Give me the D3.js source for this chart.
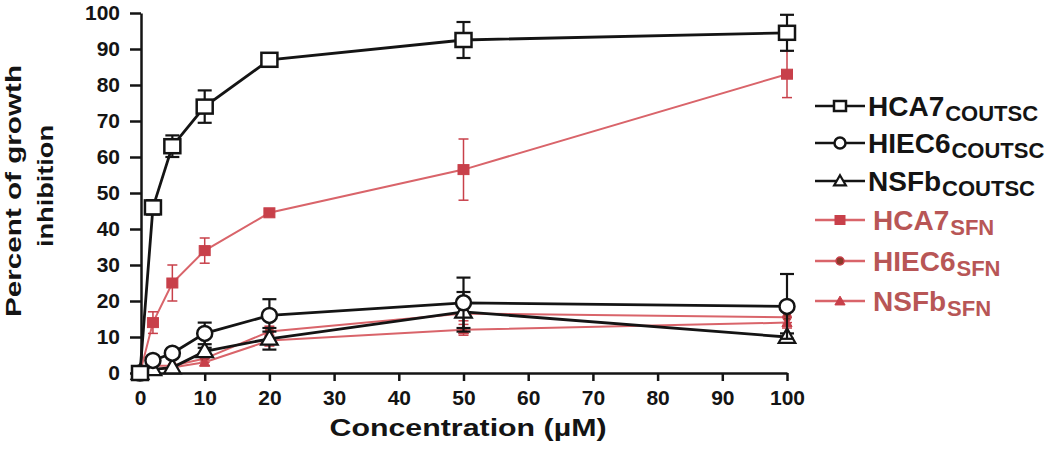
<!DOCTYPE html>
<html>
<head>
<meta charset="utf-8">
<script src="https://cdn.jsdelivr.net/npm/d3@7"></script>
<style>
  html, body { margin: 0; padding: 0; background: #fff; }
  svg { display: block; font-family: "Liberation Sans", Arial, sans-serif; font-weight: bold; }
</style>
</head>
<body>
<svg id="chart" width="1050" height="463"></svg>
<script>
// ---- data ----
const concentrations = [0, 2, 5, 10, 20, 50, 100];
const xTicks = [0, 10, 20, 30, 40, 50, 60, 70, 80, 90, 100];
const yTicks = [0, 10, 20, 30, 40, 50, 60, 70, 80, 90, 100];

const hca7Coutsc     = [0, 46, 63, 74, 87, 92.5, 94.5];
const hca7CoutscErr  = [0, 2, 3, 4.5, 1, 5, 5];
const hiec6Coutsc    = [0, 3.5, 5.5, 11, 16, 19.5, 18.5];
const hiec6CoutscErr = [0, 1, 1, 3, 4.5, 7, 9];
const nsfbCoutsc     = [0, 1, 1.5, 6, 9.5, 17, 10];
const nsfbCoutscErr  = [0, 0.5, 0.5, 1, 3, 5.5, 1];
const hca7Sfn        = [0, 14, 25, 34, 44.5, 56.5, 83];
const hca7SfnErr     = [0, 3, 5, 3.5, 1, 8.5, 6.5];
const hiec6Sfn       = [0, 2, 2, 4, 11.5, 16.5, 15.5];
const hiec6SfnErr    = [0, 0.5, 0.5, 1, 1.5, 2, 1.5];
const nsfbSfn        = [0, 1, 1.5, 3, 9, 12, 14];
const nsfbSfnErr     = [0, 0.5, 0.5, 1, 1.5, 1.5, 1.5];

const seriesNames = ["HCA7", "HIEC6", "NSFb", "HCA7", "HIEC6", "NSFb"];
const seriesSubs  = ["COUTSC", "COUTSC", "COUTSC", "SFN", "SFN", "SFN"];

// ---- styles ----
const BLACK = "#141414";
const RED_LINE = "#d9646a";
const RED_FILL = "#c8404a";
const RED_TEXT = "#b85656";

const series = [
  {name: seriesNames[0], sub: seriesSubs[0], values: hca7Coutsc,  err: hca7CoutscErr,  shape: "square",   filled: false},
  {name: seriesNames[1], sub: seriesSubs[1], values: hiec6Coutsc, err: hiec6CoutscErr, shape: "circle",   filled: false},
  {name: seriesNames[2], sub: seriesSubs[2], values: nsfbCoutsc,  err: nsfbCoutscErr,  shape: "triangle", filled: false},
  {name: seriesNames[3], sub: seriesSubs[3], values: hca7Sfn,     err: hca7SfnErr,     shape: "square",   filled: true},
  {name: seriesNames[4], sub: seriesSubs[4], values: hiec6Sfn,    err: hiec6SfnErr,    shape: "circle",   filled: true},
  {name: seriesNames[5], sub: seriesSubs[5], values: nsfbSfn,     err: nsfbSfnErr,     shape: "triangle", filled: true}
];

const svg = d3.select("#chart");
const x = d3.scaleLinear().domain([0, 100]).range([140, 787]);
const y = d3.scaleLinear().domain([0, 100]).range([373, 13]);

// axes
const gx = svg.append("g").attr("transform", `translate(0,${y(0)})`)
  .call(d3.axisBottom(x).tickValues(xTicks).tickSize(8).tickSizeOuter(0).tickPadding(9));
const gy = svg.append("g").attr("transform", `translate(${x(0) + 1},0)`)
  .call(d3.axisLeft(y).tickValues(yTicks).tickSize(11).tickSizeOuter(0).tickPadding(10));
[gx, gy].forEach(g => {
  g.selectAll("path, line").attr("stroke", BLACK).attr("stroke-width", 2.5);
  g.selectAll("text").attr("fill", BLACK).style("font-size", "21px").style("font-weight", "bold")
    .style("font-family", "'Liberation Sans', Arial, sans-serif");
});

// axis titles
svg.append("text").attr("x", 468).attr("y", 436).attr("text-anchor", "middle")
  .attr("textLength", 277).attr("lengthAdjust", "spacingAndGlyphs")
  .style("font-size", "24px").attr("fill", BLACK).text("Concentration (\u00b5M)");
svg.append("text").attr("transform", "translate(21,191) rotate(-90)").attr("text-anchor", "middle")
  .attr("textLength", 252).attr("lengthAdjust", "spacingAndGlyphs")
  .style("font-size", "22px").attr("fill", BLACK).text("Percent of growth");
svg.append("text").attr("transform", "translate(53,186) rotate(-90)").attr("text-anchor", "middle")
  .attr("textLength", 122).attr("lengthAdjust", "spacingAndGlyphs")
  .style("font-size", "22px").attr("fill", BLACK).text("inhibition");

function drawMarker(g, cx, cy, s, big) {
  const color = s.filled ? RED_FILL : BLACK;
  if (s.shape === "square") {
    const w = s.filled ? (big ? 11 : 10) : (big ? 16 : 12);
    const h = s.filled ? (big ? 10 : 9) : (big ? 14 : 10);
    g.append("rect").attr("x", cx - w / 2).attr("y", cy - h / 2).attr("width", w).attr("height", h)
      .attr("fill", s.filled ? color : "#fff").attr("stroke", color).attr("stroke-width", s.filled ? 1 : 2.5);
  } else if (s.shape === "circle") {
    const r = s.filled ? 4 : (big ? 7.5 : 5.5);
    g.append("circle").attr("cx", cx).attr("cy", cy).attr("r", r)
      .attr("fill", s.filled ? "#8a3a2a" : "#fff").attr("stroke", s.filled ? RED_FILL : color).attr("stroke-width", s.filled ? 1.5 : 2.5);
  } else {
    const size = s.filled ? 45 : (big ? 120 : 60);
    g.append("path").attr("transform", `translate(${cx},${cy + 1})`)
      .attr("d", d3.symbol().type(d3.symbolTriangle).size(size)())
      .attr("fill", s.filled ? color : "#fff").attr("stroke", color).attr("stroke-width", s.filled ? 1 : 2.2);
  }
}

const line = d3.line().x((d, i) => x(concentrations[i])).y(d => y(d));
const plotOrder = [3, 4, 5, 2, 1, 0];
plotOrder.forEach(si => {
  const s = series[si];
  const g = svg.append("g");
  const col = s.filled ? RED_LINE : BLACK;
  g.append("path").datum(s.values).attr("d", line).attr("fill", "none")
    .attr("stroke", col).attr("stroke-width", s.filled ? 2 : 2.8);
  s.values.forEach((v, i) => {
    const e = s.err[i];
    if (e > 0.9) {
      const cx = x(concentrations[i]);
      const cap = s.filled ? 5 : 7;
      const ec = s.filled ? RED_FILL : BLACK;
      const sw = s.filled ? 1.5 : 2.2;
      g.append("line").attr("x1", cx).attr("x2", cx).attr("y1", y(v - e)).attr("y2", y(v + e)).attr("stroke", ec).attr("stroke-width", sw);
      [v - e, v + e].forEach(t => g.append("line").attr("x1", cx - cap).attr("x2", cx + cap)
        .attr("y1", y(t)).attr("y2", y(t)).attr("stroke", ec).attr("stroke-width", sw));
    }
  });
  s.values.forEach((v, i) => drawMarker(g, x(concentrations[i]), y(v), s, true));
});

// legend
const legendY = [106, 143, 181, 220, 261, 301];
series.forEach((s, i) => {
  const g = svg.append("g");
  const ly = legendY[i];
  const col = s.filled ? RED_LINE : BLACK;
  g.append("line").attr("x1", 815).attr("x2", 865).attr("y1", ly).attr("y2", ly)
    .attr("stroke", col).attr("stroke-width", 2.5);
  drawMarker(g, 840, ly, s, false);
  const tx = s.filled ? 873 : 868;
  const t = g.append("text").attr("x", tx).attr("y", ly + 10)
    .attr("fill", s.filled ? RED_TEXT : BLACK).style("font-size", "28px").text(s.name);
  const w = t.node().getComputedTextLength();
  g.append("text").attr("x", tx + w + 1).attr("y", ly + 15)
    .attr("fill", s.filled ? RED_TEXT : BLACK).style("font-size", "22px").text(s.sub);
});
</script>
</body>
</html>
